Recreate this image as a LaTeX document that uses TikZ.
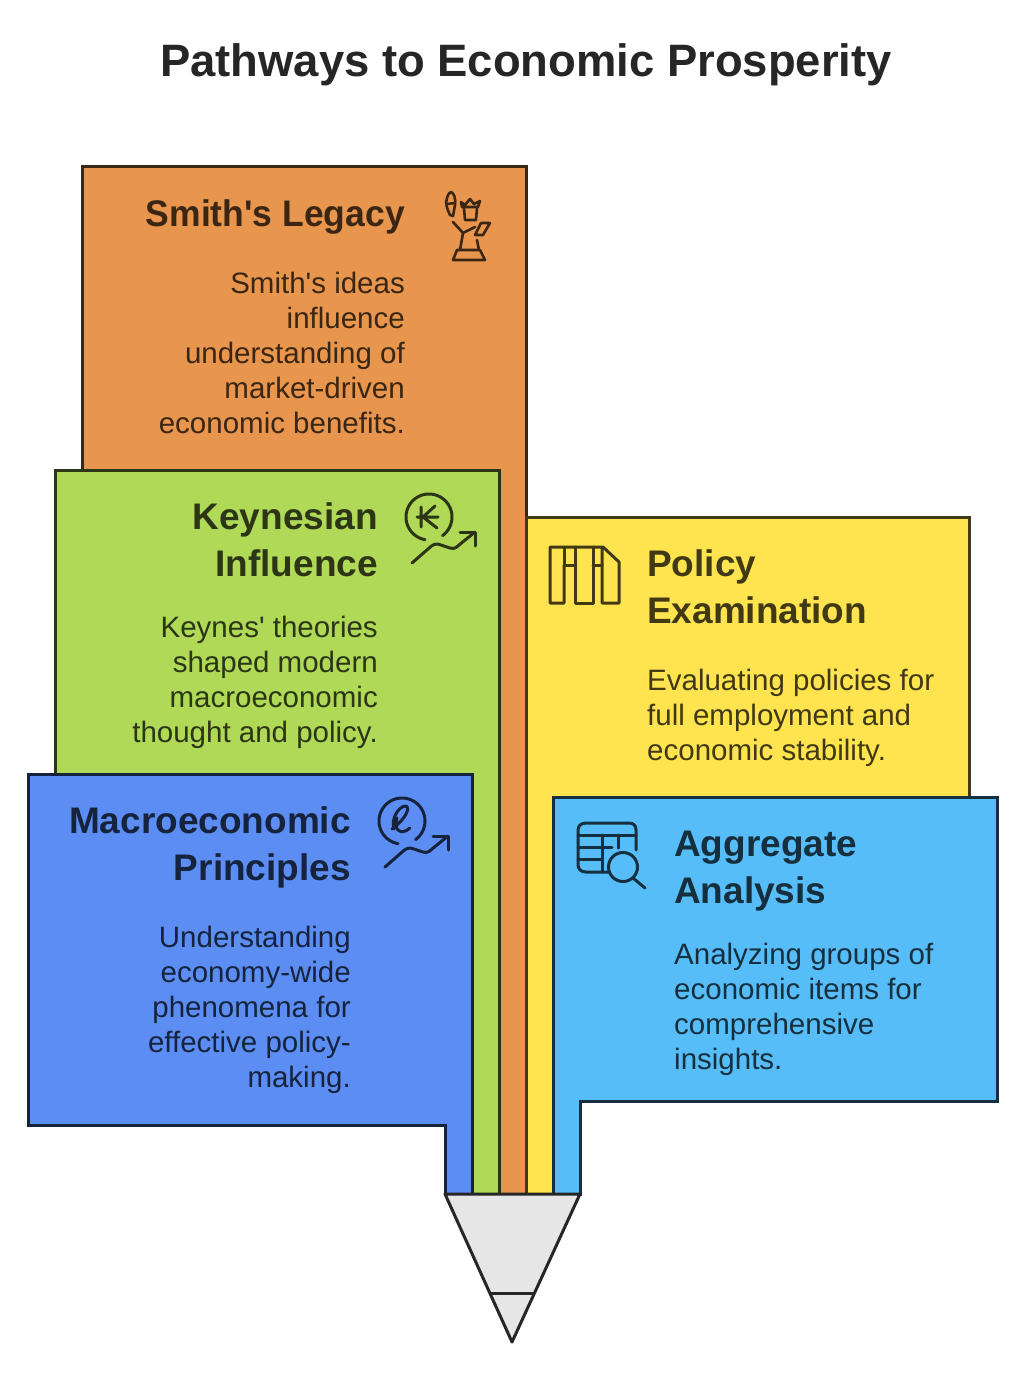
\documentclass[tikz,border=0pt]{standalone}
\usepackage{fontspec}
\newfontfamily\pf{Liberation Sans}
\tikzset{
  x=1pt,y=-1pt,
  panel/.style={line width=3pt,line join=miter},
  ico/.style={line width=3pt,line cap=round,line join=round},
  headL/.style={inner sep=0pt,anchor=north east,align=right,font=\pf\fontsize{37}{47}\selectfont\bfseries},
  headR/.style={inner sep=0pt,anchor=north west,align=left,font=\pf\fontsize{37}{47}\selectfont\bfseries},
  bodyL/.style={inner sep=0pt,anchor=north east,align=right,font=\pf\fontsize{29.5}{35}\selectfont},
  bodyR/.style={inner sep=0pt,anchor=north west,align=left,font=\pf\fontsize{29.5}{35}\selectfont},
}
\definecolor{orangeF}{HTML}{E8964E}\definecolor{orangeD}{HTML}{3A2613}
\definecolor{greenF}{HTML}{AFD957}\definecolor{greenD}{HTML}{2C3616}
\definecolor{blueF}{HTML}{5B8DF3}\definecolor{blueD}{HTML}{16233D}
\definecolor{yellowF}{HTML}{FFE34F}\definecolor{yellowD}{HTML}{403914}
\definecolor{skyF}{HTML}{57BDF8}\definecolor{skyD}{HTML}{162F3E}
\definecolor{tipF}{HTML}{E6E6E6}\definecolor{tipD}{HTML}{262626}
\begin{document}
\begin{tikzpicture}
\useasboundingbox (0,0) rectangle (1034,1380);
\fill[white] (0,0) rectangle (1034,1380);
\node[inner sep=0pt,anchor=base,font=\pf\fontsize{45.4}{50}\selectfont\bfseries,text=tipD] (title) at (526,77) {Pathways to Economic Prosperity};
% panels
\draw[panel,fill=orangeF,draw=orangeD] (82,167)--(526,167)--(526,1194)--(499,1194)--(499,470)--(82,470)--cycle;
\draw[panel,fill=yellowF,draw=yellowD] (526,517)--(969,517)--(969,797)--(553,797)--(553,1194)--(526,1194)--cycle;
\draw[panel,fill=greenF,draw=greenD] (55,470)--(499,470)--(499,1194)--(472,1194)--(472,774)--(55,774)--cycle;
\draw[panel,fill=skyF,draw=skyD] (553,797)--(997,797)--(997,1101)--(580,1101)--(580,1194)--(553,1194)--cycle;
\draw[panel,fill=blueF,draw=blueD] (28,774)--(472,774)--(472,1194)--(445,1194)--(445,1125)--(28,1125)--cycle;
\draw[panel,fill=tipF,draw=tipD,line join=round] (445,1194)--(580,1194)--(512,1342)--cycle;
\draw[panel,draw=tipD] (490,1293)--(535,1293);
% texts
\node[headL,text=orangeD] (h1) at (405,199) {\scalebox{0.959}[1]{Smith's Legacy}};
\node[bodyL,text=orangeD] (b1) at (405,272) {Smith's ideas\\influence\\understanding of\\market-driven\\economic benefits.};
\node[headL,text=greenD] (h2) at (378,502) {Keynesian\\Influence};
\node[bodyL,text=greenD] (b2) at (378,616) {Keynes' theories\\shaped modern\\macroeconomic\\thought and policy.};
\node[headL,text=blueD] (h3) at (351,806) {Macroeconomic\\Principles};
\node[bodyL,text=blueD] (b3) at (351,926) {Understanding\\economy-wide\\phenomena for\\effective policy-\\making.};
\node[headR,text=yellowD] (h4) at (647,549) {Policy\\Examination};
\node[bodyR,text=yellowD] (b4) at (647,669) {Evaluating policies for\\full employment and\\economic stability.};
\node[headR,text=skyD] (h5) at (674,831) {Aggregate\\Analysis};
\node[bodyR,text=skyD] (b5) at (674,943) {Analyzing groups of\\economic items for\\comprehensive\\insights.};
% statue icon
\begin{scope}[line width=2.6pt,line cap=round,line join=round,draw=orangeD]
\draw (450,215) .. controls (447,209) and (445,203) .. (447,198) .. controls (448,194) and (450,192) .. (451,192) .. controls (454,193) and (456,199) .. (455,205) -- (453,216) -- cycle;
\draw (447,204)--(455,203);
\draw (462,207)--(461,202)--(465,205)--(470,199)--(474,204)--(480,201)--(478,207)--cycle;
\draw (464,208)--(465,220)--(476,220)--(477,208);
\draw (453,222)--(463,233)--(475,227) (463,233)--(460,250) (477,240)--(479,250);
\draw (481,223)--(490,223)--(483,235)--(475,235)--cycle;
\draw (457,250)--(480,250)--(485,260)--(453,260)--cycle;
\end{scope}
% coin icons
\begin{scope}[ico,draw=greenD]
\draw plot[domain=100:414,samples=60] ({429+23*cos(\x)},{517+23*sin(\x)});
\draw (421,507)--(421,527) (417,517)--(438,517) (423,517)--(435,506) (423,517)--(437,528);
\draw (412,563)--(428,549) .. controls (433,544) and (436,543) .. (441,545) -- (450,548) .. controls (454,549) and (456,548) .. (459,545) -- (475,532);
\draw (460,532)--(475,532)--(475,546);
\end{scope}
\begin{scope}[ico,draw=blueD,shift={(-27,304)}]
\draw plot[domain=100:414,samples=60] ({429+23*cos(\x)},{517+23*sin(\x)});
\draw (421,525) .. controls (418,515) and (425,503) .. (432,502) .. controls (438,502) and (434,514) .. (419,525) (424,514) .. controls (420,526) and (428,532) .. (437,524);
\draw (412,563)--(428,549) .. controls (433,544) and (436,543) .. (441,545) -- (450,548) .. controls (454,549) and (456,548) .. (459,545) -- (475,532);
\draw (460,532)--(475,532)--(475,546);
\end{scope}
% books icon
\begin{scope}[ico,draw=yellowD]
\draw (564,565)--(564,603)--(550,603)--(550,547)--(603,547)--(619,562)--(619,603)--(602,603)--(602,547);
\draw (564,547)--(564,565)--(575,565) (575,547)--(575,603)--(593,603)--(593,547) (593,565)--(602,565);
\end{scope}
% table icon
\begin{scope}[ico,draw=skyD]
\draw (608,872)--(586,872) .. controls (581,872) and (578,869) .. (578,865) -- (578,830) .. controls (578,826) and (581,823) .. (586,823) -- (629,823) .. controls (634,823) and (636,826) .. (636,830) -- (636,850);
\draw (578,835)--(636,835) (578,847)--(612,847) (578,859)--(602,859) (602,835)--(602,872) (618,835)--(618,848);
\draw (623,867) circle[radius=14.5];
\draw (633,878)--(645,888);
\end{scope}
\end{tikzpicture}
\end{document}
